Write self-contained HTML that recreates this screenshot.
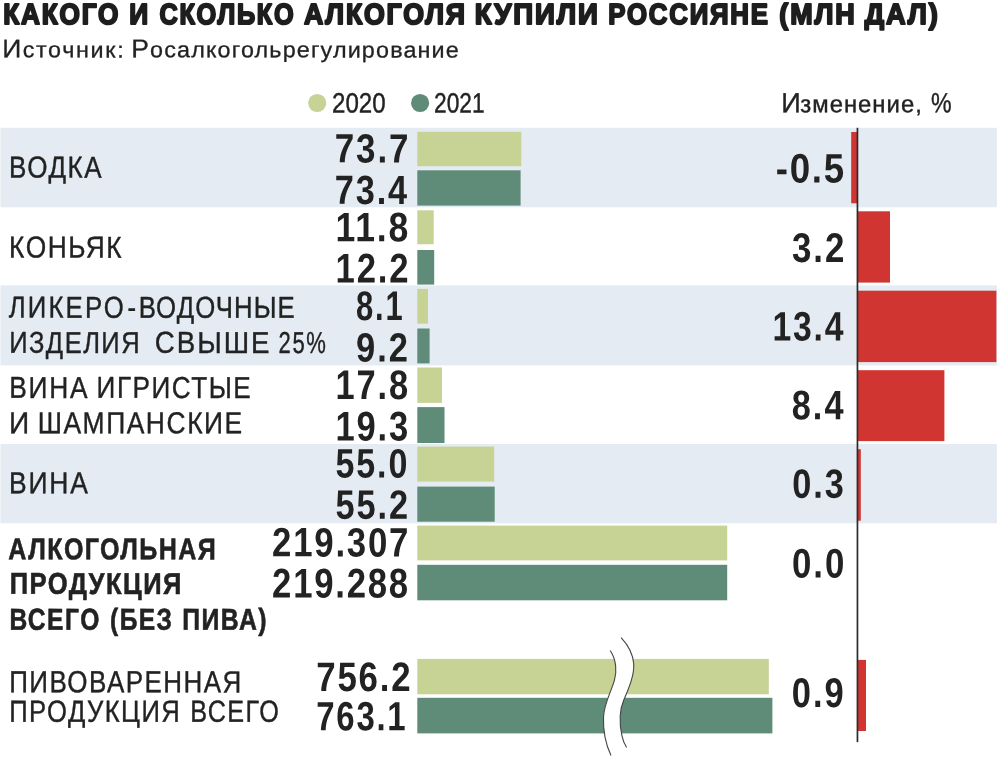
<!DOCTYPE html>
<html lang="ru"><head><meta charset="utf-8"><title>Какого и сколько алкоголя купили россияне</title>
<style>
html,body{margin:0;padding:0;background:#fff}
body{width:1000px;height:757px;overflow:hidden}
svg{display:block;font-family:"Liberation Sans",sans-serif;text-rendering:geometricPrecision}
</style></head><body>
<svg width="1000" height="757" viewBox="0 0 1000 757">
<rect width="1000" height="757" fill="#fff"/>
<rect x="0.5" y="127.8" width="996.4" height="79.5" fill="#e4ebf2"/>
<rect x="0.5" y="285.4" width="996.4" height="80.0" fill="#e4ebf2"/>
<rect x="0.5" y="444.0" width="996.4" height="79.3" fill="#e4ebf2"/>
<text transform="translate(3.30,23.95) rotate(0.05) scale(0.8998,1)" font-size="29.13" font-weight="700" letter-spacing="1.999" fill="#1e1e1e" stroke="#1e1e1e" stroke-width="2.0" stroke-linejoin="round">КАКОГО</text>
<text transform="translate(129.29,23.99) rotate(0.05) scale(0.9037,1)" font-size="29.13" font-weight="700" fill="#1e1e1e" stroke="#1e1e1e" stroke-width="2.0" stroke-linejoin="round">И</text>
<text transform="translate(159.39,23.94) rotate(0.05) scale(0.8680,1)" font-size="29.13" font-weight="700" letter-spacing="2.031" fill="#1e1e1e" stroke="#1e1e1e" stroke-width="2.0" stroke-linejoin="round">СКОЛЬКО</text>
<text transform="translate(303.93,23.93) rotate(0.05) scale(0.9171,1)" font-size="29.13" font-weight="700" letter-spacing="1.974" fill="#1e1e1e" stroke="#1e1e1e" stroke-width="2.0" stroke-linejoin="round">АЛКОГОЛЯ</text>
<text transform="translate(474.81,23.95) rotate(0.05) scale(0.9475,1)" font-size="29.13" font-weight="700" letter-spacing="2.016" fill="#1e1e1e" stroke="#1e1e1e" stroke-width="2.0" stroke-linejoin="round">КУПИЛИ</text>
<text transform="translate(608.32,23.93) rotate(0.05) scale(0.8854,1)" font-size="29.13" font-weight="700" letter-spacing="2.026" fill="#1e1e1e" stroke="#1e1e1e" stroke-width="2.0" stroke-linejoin="round">РОССИЯНЕ</text>
<text transform="translate(779.25,23.97) rotate(0.05) scale(0.9239,1)" font-size="29.13" font-weight="700" letter-spacing="2.090" fill="#1e1e1e" stroke="#1e1e1e" stroke-width="2.0" stroke-linejoin="round">(МЛН</text>
<text transform="translate(864.73,23.97) rotate(0.05) scale(0.9325,1)" font-size="29.13" font-weight="700" letter-spacing="2.048" fill="#1e1e1e" stroke="#1e1e1e" stroke-width="2.0" stroke-linejoin="round">ДАЛ)</text>
<text transform="translate(2.23,57.30) rotate(0.05) scale(1.0400,1)" fill="#222222" stroke="#222222" stroke-width="0.3" stroke-linejoin="round"><tspan font-size="25.51">И</tspan><tspan font-size="22.45" dx="1.37" letter-spacing="1.596">сточник:</tspan></text>
<text transform="translate(131.13,57.21) rotate(0.05) scale(1.0400,1)" fill="#222222" stroke="#222222" stroke-width="0.3" stroke-linejoin="round"><tspan font-size="25.51">Р</tspan><tspan font-size="22.45" dx="1.24" letter-spacing="1.115">осалкогольрегулирование</tspan></text>
<circle cx="317.2" cy="103" r="9.1" fill="#c6d395"/>
<circle cx="420.1" cy="103" r="9.1" fill="#5f8c79"/>
<text transform="translate(331.99,112.38) rotate(0.05) scale(0.8665,1)" font-size="27.83" fill="#222222" stroke="#222222" stroke-width="0.4" stroke-linejoin="round">2020</text>
<text transform="translate(434.06,112.38) rotate(0.05) scale(0.8166,1)" font-size="27.83" fill="#222222" stroke="#222222" stroke-width="0.4" stroke-linejoin="round">2021</text>
<text transform="translate(781.23,112.24) rotate(0.05) scale(0.9800,1)" fill="#222222" stroke="#222222" stroke-width="0.4" stroke-linejoin="round"><tspan font-size="27.68">И</tspan><tspan font-size="24.34" dx="-0.43" letter-spacing="1.034">зменение,</tspan></text>
<text transform="translate(930.99,112.29) rotate(0.05) scale(0.8371,1)" font-size="27.68" fill="#222222" stroke="#222222" stroke-width="0.4" stroke-linejoin="round">%</text>
<text transform="translate(9.12,177.56) rotate(0.05) scale(0.8580,1)" font-size="30.29" letter-spacing="1.844" fill="#222222" stroke="#222222" stroke-width="0.4" stroke-linejoin="round">ВОДКА</text>
<text transform="translate(9.10,257.55) rotate(0.05) scale(0.8684,1)" font-size="30.29" letter-spacing="1.778" fill="#222222" stroke="#222222" stroke-width="0.4" stroke-linejoin="round">КОНЬЯК</text>
<text transform="translate(8.74,317.58) rotate(0.05) scale(0.8500,1)" font-size="30.29" fill="#222222" stroke="#222222" stroke-width="0.4" stroke-linejoin="round"><tspan letter-spacing="2.535">ЛИКЕРО</tspan><tspan dx="1.84">-</tspan><tspan dx="3.20" letter-spacing="1.293">ВОДОЧНЫЕ</tspan></text>
<text transform="translate(9.16,352.85) rotate(0.05) scale(0.8430,1)" font-size="30.29" letter-spacing="1.748" fill="#222222" stroke="#222222" stroke-width="0.4" stroke-linejoin="round">ИЗДЕЛИЯ</text>
<text transform="translate(154.81,352.85) rotate(0.05) scale(0.9150,1)" font-size="30.29" letter-spacing="2.146" fill="#222222" stroke="#222222" stroke-width="0.4" stroke-linejoin="round">СВЫШЕ</text>
<text transform="translate(278.60,352.88) rotate(0.05) scale(0.7279,1)" font-size="30.29" letter-spacing="2.183" fill="#222222" stroke="#222222" stroke-width="0.4" stroke-linejoin="round">25%</text>
<text transform="translate(9.19,397.87) rotate(0.05) scale(0.8693,1)" font-size="30.29" letter-spacing="2.048" fill="#222222" stroke="#222222" stroke-width="0.4" stroke-linejoin="round">ВИНА</text>
<text transform="translate(96.61,397.83) rotate(0.05) scale(0.8620,1)" font-size="30.29" letter-spacing="1.751" fill="#222222" stroke="#222222" stroke-width="0.4" stroke-linejoin="round">ИГРИСТЫЕ</text>
<text transform="translate(9.05,433.29) rotate(0.05) scale(0.9280,1)" font-size="30.29" fill="#222222" stroke="#222222" stroke-width="0.4" stroke-linejoin="round">И</text>
<text transform="translate(37.69,433.21) rotate(0.05) scale(0.8716,1)" font-size="30.29" letter-spacing="1.797" fill="#222222" stroke="#222222" stroke-width="0.4" stroke-linejoin="round">ШАМПАНСКИЕ</text>
<text transform="translate(9.09,493.27) rotate(0.05) scale(0.8727,1)" font-size="30.29" letter-spacing="2.048" fill="#222222" stroke="#222222" stroke-width="0.4" stroke-linejoin="round">ВИНА</text>
<text transform="translate(8.37,559.21) rotate(0.05) scale(0.8308,1)" font-size="30.14" font-weight="700" letter-spacing="1.729" fill="#222222" stroke="#222222" stroke-width="0.6" stroke-linejoin="round">АЛКОГОЛЬНАЯ</text>
<text transform="translate(9.64,593.83) rotate(0.05) scale(0.8475,1)" font-size="30.14" font-weight="700" letter-spacing="1.739" fill="#222222" stroke="#222222" stroke-width="0.6" stroke-linejoin="round">ПРОДУКЦИЯ</text>
<text transform="translate(9.50,629.66) rotate(0.05) scale(0.8116,1)" font-size="30.29" font-weight="700" letter-spacing="1.878" fill="#222222" stroke="#222222" stroke-width="0.6" stroke-linejoin="round">ВСЕГО</text>
<text transform="translate(110.07,629.67) rotate(0.05) scale(0.8106,1)" font-size="30.29" font-weight="700" letter-spacing="1.710" fill="#222222" stroke="#222222" stroke-width="0.6" stroke-linejoin="round">(БЕЗ</text>
<text transform="translate(182.29,629.66) rotate(0.05) scale(0.8194,1)" font-size="30.29" font-weight="700" letter-spacing="1.738" fill="#222222" stroke="#222222" stroke-width="0.6" stroke-linejoin="round">ПИВА)</text>
<text transform="translate(9.22,692.20) rotate(0.05) scale(0.8536,1)" font-size="30.43" letter-spacing="1.698" fill="#222222" stroke="#222222" stroke-width="0.4" stroke-linejoin="round">ПИВОВАРЕННАЯ</text>
<text transform="translate(9.25,721.63) rotate(0.05) scale(0.8416,1)" font-size="30.43" letter-spacing="1.731" fill="#222222" stroke="#222222" stroke-width="0.4" stroke-linejoin="round">ПРОДУКЦИЯ</text>
<text transform="translate(190.18,721.66) rotate(0.05) scale(0.8278,1)" font-size="30.43" letter-spacing="1.810" fill="#222222" stroke="#222222" stroke-width="0.4" stroke-linejoin="round">ВСЕГО</text>
<text transform="translate(334.70,162.37) rotate(0.05) scale(0.8588,1)" font-size="40.72" font-weight="700" letter-spacing="2.201" fill="#222222">73.7</text>
<text transform="translate(334.73,203.87) rotate(0.05) scale(0.8430,1)" font-size="40.72" font-weight="700" letter-spacing="2.243" fill="#222222">73.4</text>
<text transform="translate(335.47,241.17) rotate(0.05) scale(0.8643,1)" font-size="41.16" font-weight="700" letter-spacing="2.147" fill="#222222">11.8</text>
<text transform="translate(335.52,282.57) rotate(0.05) scale(0.8373,1)" font-size="41.45" font-weight="700" letter-spacing="2.217" fill="#222222">12.2</text>
<text transform="translate(356.07,319.98) rotate(0.05) scale(0.7491,1)" font-size="41.30" font-weight="700" letter-spacing="2.397" fill="#222222">8.1</text>
<text transform="translate(356.09,361.58) rotate(0.05) scale(0.8439,1)" font-size="40.87" font-weight="700" letter-spacing="2.337" fill="#222222">9.2</text>
<text transform="translate(335.53,398.97) rotate(0.05) scale(0.8333,1)" font-size="41.30" font-weight="700" letter-spacing="2.221" fill="#222222">17.8</text>
<text transform="translate(335.53,440.57) rotate(0.05) scale(0.8297,1)" font-size="41.59" font-weight="700" letter-spacing="2.230" fill="#222222">19.3</text>
<text transform="translate(335.58,477.57) rotate(0.05) scale(0.8291,1)" font-size="41.01" font-weight="700" letter-spacing="2.229" fill="#222222">55.0</text>
<text transform="translate(335.57,518.77) rotate(0.05) scale(0.8374,1)" font-size="41.01" font-weight="700" letter-spacing="2.229" fill="#222222">55.2</text>
<text transform="translate(272.08,556.34) rotate(0.05) scale(0.8478,1)" font-size="41.01" font-weight="700" letter-spacing="2.104" fill="#222222">219.307</text>
<text transform="translate(272.09,597.44) rotate(0.05) scale(0.8366,1)" font-size="41.45" font-weight="700" letter-spacing="2.133" fill="#222222">219.288</text>
<text transform="translate(316.21,690.96) rotate(0.05) scale(0.8461,1)" font-size="41.16" font-weight="700" letter-spacing="2.165" fill="#222222">756.2</text>
<text transform="translate(316.28,730.16) rotate(0.05) scale(0.8061,1)" font-size="40.87" font-weight="700" letter-spacing="2.163" fill="#222222">763.1</text>
<text transform="translate(775.73,182.57) rotate(0.05) scale(0.8914,1)" font-size="41.16" font-weight="700" letter-spacing="1.974" fill="#222222">-0.5</text>
<text transform="translate(791.93,261.98) rotate(0.05) scale(0.8409,1)" font-size="41.45" font-weight="700" letter-spacing="2.388" fill="#222222">3.2</text>
<text transform="translate(772.48,340.47) rotate(0.05) scale(0.8180,1)" font-size="41.16" font-weight="700" letter-spacing="2.243" fill="#222222">13.4</text>
<text transform="translate(791.77,419.18) rotate(0.05) scale(0.8330,1)" font-size="41.16" font-weight="700" letter-spacing="2.425" fill="#222222">8.4</text>
<text transform="translate(792.13,497.78) rotate(0.05) scale(0.8418,1)" font-size="40.72" font-weight="700" letter-spacing="2.328" fill="#222222">0.3</text>
<text transform="translate(792.01,577.38) rotate(0.05) scale(0.8416,1)" font-size="41.30" font-weight="700" letter-spacing="2.353" fill="#222222">0.0</text>
<text transform="translate(791.82,706.98) rotate(0.05) scale(0.8321,1)" font-size="41.45" font-weight="700" letter-spacing="2.370" fill="#222222">0.9</text>
<rect x="417.3" y="131.8" width="104.0" height="34.4" fill="#c6d395"/>
<rect x="417.3" y="170.3" width="103.3" height="35.3" fill="#5f8c79"/>
<rect x="417.3" y="210.3" width="16.4" height="34.0" fill="#c6d395"/>
<rect x="417.3" y="250.0" width="16.9" height="34.6" fill="#5f8c79"/>
<rect x="417.3" y="288.9" width="10.7" height="34.8" fill="#c6d395"/>
<rect x="417.3" y="328.5" width="12.3" height="34.9" fill="#5f8c79"/>
<rect x="417.3" y="367.5" width="24.7" height="35.4" fill="#c6d395"/>
<rect x="417.3" y="407.1" width="27.2" height="35.9" fill="#5f8c79"/>
<rect x="417.3" y="446.6" width="76.9" height="35.0" fill="#c6d395"/>
<rect x="417.3" y="486.6" width="77.4" height="35.1" fill="#5f8c79"/>
<rect x="417.3" y="525.6" width="309.9" height="34.8" fill="#c6d395"/>
<rect x="417.3" y="564.8" width="309.9" height="35.5" fill="#5f8c79"/>
<rect x="417.3" y="658.9" width="351.5" height="35.4" fill="#c6d395"/>
<rect x="417.3" y="697.8" width="355.1" height="35.6" fill="#5f8c79"/>
<rect x="851.2" y="132.0" width="5.8" height="71.3" fill="#d13531"/>
<rect x="857.5" y="211.3" width="32.5" height="71.3" fill="#d13531"/>
<rect x="857.5" y="290.7" width="138.9" height="71.4" fill="#d13531"/>
<rect x="857.5" y="370.2" width="86.9" height="70.9" fill="#d13531"/>
<rect x="857.5" y="449.2" width="3.3" height="71.5" fill="#d13531"/>
<rect x="857.5" y="659.9" width="8.5" height="71.1" fill="#d13531"/>
<rect x="856.6" y="127.8" width="1.7" height="614.3" fill="#2b2b2b"/>
<path d="M610.2,650.5 C616.5,660 617,672 614.4,680.3 C611,692 604,704 603.5,717.2 C603,732 606,745 611,755.5 L626.6,747.5 C625,745 623,741 621.9,735.7 C619.5,724 619.5,710 623.6,700.5 C628,690 634.5,676 633.7,663.6 C633,655 629,646 621.1,637.6 Z" fill="#fff"/>
<path d="M610.2,650.5 C616.5,660 617,672 614.4,680.3 C611,692 604,704 603.5,717.2 C603,732 606,745 611,755.5" fill="none" stroke="#444" stroke-width="1.1"/>
<path d="M621.1,637.6 C629,646 633,655 633.7,663.6 C634.5,676 628,690 623.6,700.5 C619.5,710 619.5,724 621.9,735.7 C623,741 625,745 626.6,747.5" fill="none" stroke="#444" stroke-width="1.1"/>
</svg>
</body></html>
